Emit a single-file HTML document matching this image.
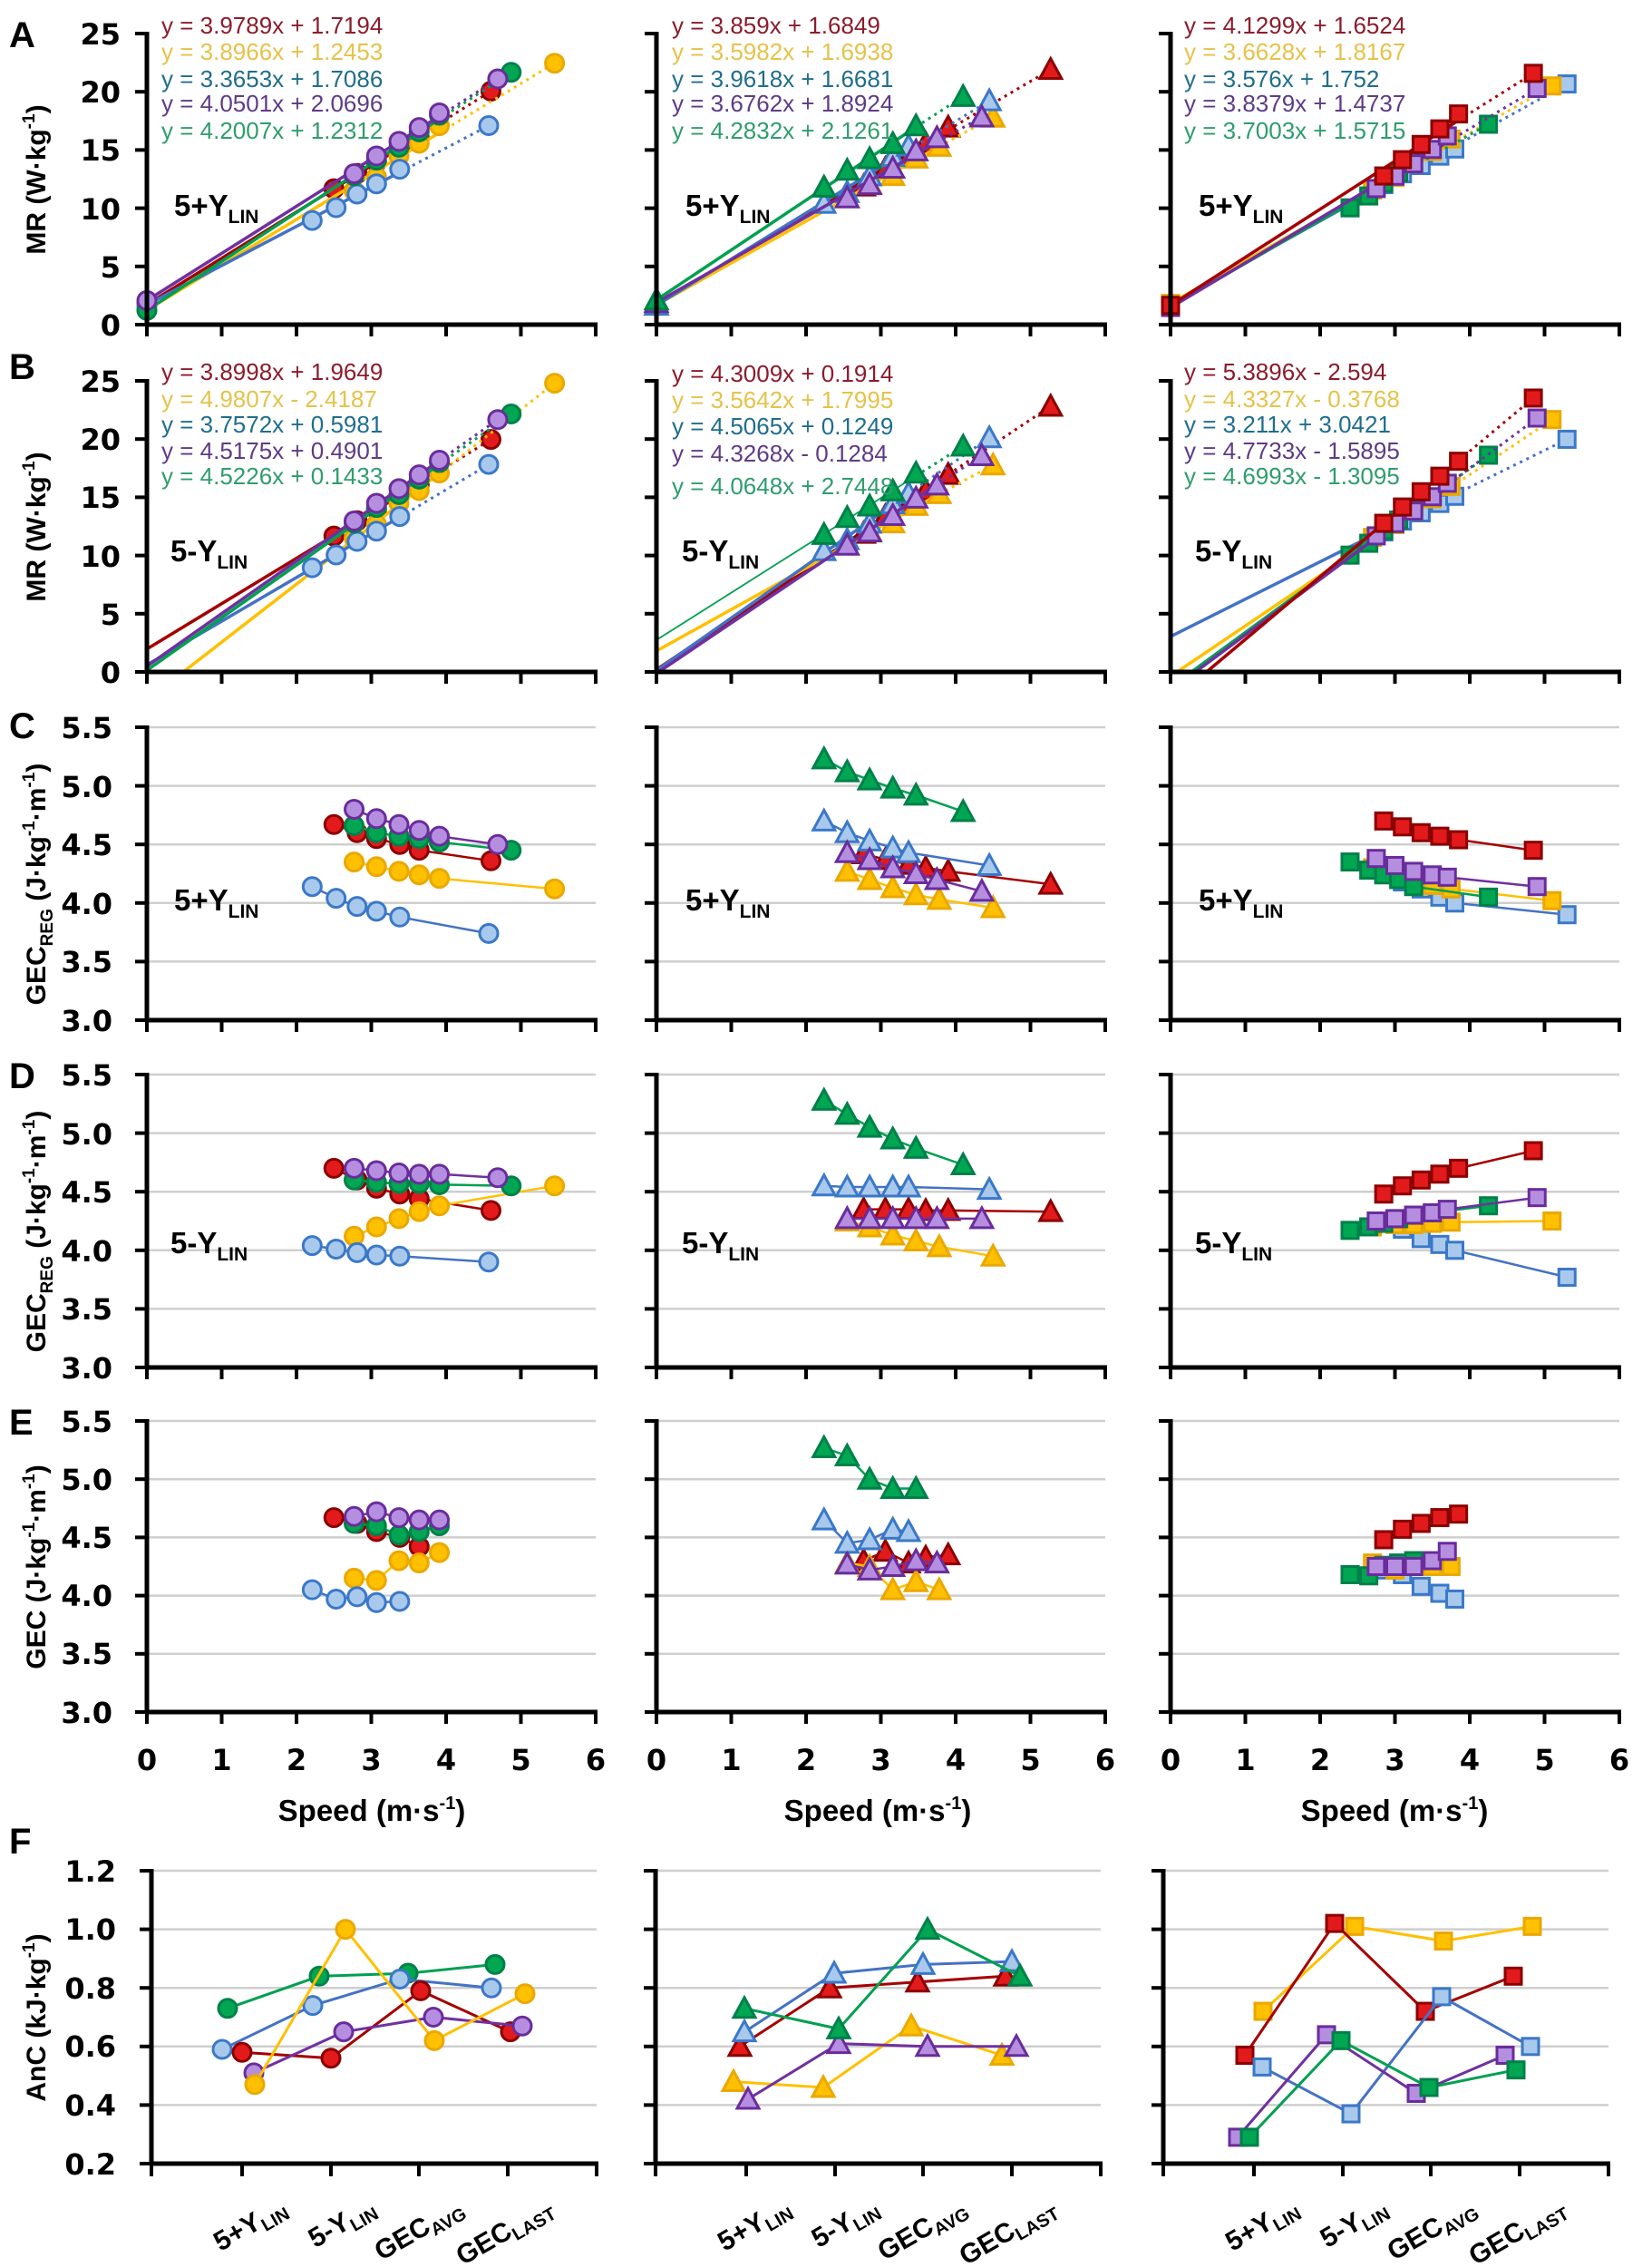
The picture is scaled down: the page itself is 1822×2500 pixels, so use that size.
<!DOCTYPE html>
<html><head><meta charset="utf-8"><style>
html,body{margin:0;padding:0;background:#fff}
svg{display:block}
.tk{font-family:"DejaVu Sans",sans-serif;font-weight:bold;font-size:32px;fill:#000}
.ttl{font-family:"Liberation Sans",sans-serif;font-weight:bold;font-size:30px;fill:#000}
.pl{font-family:"Liberation Sans",sans-serif;font-weight:bold;font-size:40px;fill:#000}
.eq{font-family:"Liberation Sans",sans-serif;font-size:26px}
.lb{font-family:"Liberation Sans",sans-serif;font-weight:bold;font-size:33px;fill:#000}
.cat{font-family:"Liberation Sans",sans-serif;font-weight:bold;font-size:30px;fill:#000}
</style></head><body>
<svg id="s" xmlns="http://www.w3.org/2000/svg" width="1822" height="2500" viewBox="0 0 1822 2500">
<rect width="1822" height="2500" fill="#fff"/>
<g id="grid"></g>
<g id="data"></g>
<g id="axes"></g>
<!-- panel letters -->
<text class="pl" x="10" y="52">A</text>
<text class="pl" x="10" y="418">B</text>
<text class="pl" x="10" y="814">C</text>
<text class="pl" x="10" y="1200">D</text>
<text class="pl" x="10" y="1582">E</text>
<text class="pl" x="10" y="2044">F</text>
<!-- y tick labels A/B -->
<g class="tk" text-anchor="end">
<text x="133" y="49">25</text><text x="133" y="113">20</text><text x="133" y="177">15</text><text x="133" y="242">10</text><text x="133" y="306">5</text><text x="133" y="370">0</text>
<text x="133" y="432">25</text><text x="133" y="496">20</text><text x="133" y="560">15</text><text x="133" y="625">10</text><text x="133" y="689">5</text><text x="133" y="753">0</text>
<text x="124" y="814">5.5</text><text x="124" y="879">5.0</text><text x="124" y="943">4.5</text><text x="124" y="1008">4.0</text><text x="124" y="1072">3.5</text><text x="124" y="1137">3.0</text>
<text x="124" y="1197">5.5</text><text x="124" y="1262">5.0</text><text x="124" y="1326">4.5</text><text x="124" y="1391">4.0</text><text x="124" y="1455">3.5</text><text x="124" y="1520">3.0</text>
<text x="124" y="1579">5.5</text><text x="124" y="1643">5.0</text><text x="124" y="1707">4.5</text><text x="124" y="1771">4.0</text><text x="124" y="1835">3.5</text><text x="124" y="1900">3.0</text>
<text x="128" y="2075">1.2</text><text x="128" y="2139">1.0</text><text x="128" y="2204">0.8</text><text x="128" y="2268">0.6</text><text x="128" y="2333">0.4</text><text x="128" y="2398">0.2</text>
</g>
<!-- x tick labels -->
<g class="tk" text-anchor="middle" font-size="34">
<text x="162" y="1952">0</text><text x="244.5" y="1952">1</text><text x="327" y="1952">2</text><text x="409.5" y="1952">3</text><text x="492" y="1952">4</text><text x="574.5" y="1952">5</text><text x="657" y="1952">6</text>
<text x="724" y="1952">0</text><text x="806.5" y="1952">1</text><text x="889" y="1952">2</text><text x="971.5" y="1952">3</text><text x="1054" y="1952">4</text><text x="1136.5" y="1952">5</text><text x="1219" y="1952">6</text>
<text x="1291" y="1952">0</text><text x="1373.5" y="1952">1</text><text x="1456" y="1952">2</text><text x="1538.5" y="1952">3</text><text x="1621" y="1952">4</text><text x="1703.5" y="1952">5</text><text x="1786" y="1952">6</text>
</g>
<g class="lb" text-anchor="middle">
<text x="410" y="2008">Speed (m·s<tspan font-size="20" dy="-13">-1</tspan><tspan dy="13">)</tspan></text>
<text x="968" y="2008">Speed (m·s<tspan font-size="20" dy="-13">-1</tspan><tspan dy="13">)</tspan></text>
<text x="1538" y="2008">Speed (m·s<tspan font-size="20" dy="-13">-1</tspan><tspan dy="13">)</tspan></text>
</g>
<!-- y axis titles -->
<g class="ttl" text-anchor="middle">
<text transform="translate(50,198) rotate(-90)">MR (W·kg<tspan font-size="19" dy="-12">-1</tspan><tspan dy="12">)</tspan></text>
<text transform="translate(50,581) rotate(-90)">MR (W·kg<tspan font-size="19" dy="-12">-1</tspan><tspan dy="12">)</tspan></text>
<text transform="translate(50,975) rotate(-90)">GEC<tspan font-size="19" dy="8">REG</tspan><tspan dy="-8"> (J·kg</tspan><tspan font-size="19" dy="-12">-1</tspan><tspan dy="12">·m</tspan><tspan font-size="19" dy="-12">-1</tspan><tspan dy="12">)</tspan></text>
<text transform="translate(50,1358) rotate(-90)">GEC<tspan font-size="19" dy="8">REG</tspan><tspan dy="-8"> (J·kg</tspan><tspan font-size="19" dy="-12">-1</tspan><tspan dy="12">·m</tspan><tspan font-size="19" dy="-12">-1</tspan><tspan dy="12">)</tspan></text>
<text transform="translate(50,1728) rotate(-90)">GEC (J·kg<tspan font-size="19" dy="-12">-1</tspan><tspan dy="12">·m</tspan><tspan font-size="19" dy="-12">-1</tspan><tspan dy="12">)</tspan></text>
<text transform="translate(50,2225) rotate(-90)">AnC (kJ·kg<tspan font-size="19" dy="-12">-1</tspan><tspan dy="12">)</tspan></text>
</g>
<!-- condition labels -->
<g class="lb">
<text x="192" y="238">5+Y<tspan font-size="21" dy="8">LIN</tspan></text>
<text x="756" y="238">5+Y<tspan font-size="21" dy="8">LIN</tspan></text>
<text x="1322" y="238">5+Y<tspan font-size="21" dy="8">LIN</tspan></text>
<text x="188" y="619">5-Y<tspan font-size="21" dy="8">LIN</tspan></text>
<text x="752" y="619">5-Y<tspan font-size="21" dy="8">LIN</tspan></text>
<text x="1318" y="619">5-Y<tspan font-size="21" dy="8">LIN</tspan></text>
<text x="192" y="1004">5+Y<tspan font-size="21" dy="8">LIN</tspan></text>
<text x="756" y="1004">5+Y<tspan font-size="21" dy="8">LIN</tspan></text>
<text x="1322" y="1004">5+Y<tspan font-size="21" dy="8">LIN</tspan></text>
<text x="188" y="1382">5-Y<tspan font-size="21" dy="8">LIN</tspan></text>
<text x="752" y="1382">5-Y<tspan font-size="21" dy="8">LIN</tspan></text>
<text x="1318" y="1382">5-Y<tspan font-size="21" dy="8">LIN</tspan></text>
</g>
<!-- equations -->
<g class="eq">
<text x="178" y="37" fill="#8b1c2c">y = 3.9789x + 1.7194</text>
<text x="178" y="66" fill="#e6c24a">y = 3.8966x + 1.2453</text>
<text x="178" y="96" fill="#1f6e8c">y = 3.3653x + 1.7086</text>
<text x="178" y="123" fill="#5f3b86">y = 4.0501x + 2.0696</text>
<text x="178" y="153" fill="#2f9d6d">y = 4.2007x + 1.2312</text>
<text x="178" y="419" fill="#8b1c2c">y = 3.8998x + 1.9649</text>
<text x="178" y="449" fill="#e6c24a">y = 4.9807x - 2.4187</text>
<text x="178" y="477" fill="#1f6e8c">y = 3.7572x + 0.5981</text>
<text x="178" y="506" fill="#5f3b86">y = 4.5175x + 0.4901</text>
<text x="178" y="534" fill="#2f9d6d">y = 4.5226x + 0.1433</text>
<text x="741" y="37" fill="#8b1c2c">y = 3.859x + 1.6849</text>
<text x="741" y="66" fill="#e6c24a">y = 3.5982x + 1.6938</text>
<text x="741" y="96" fill="#1f6e8c">y = 3.9618x + 1.6681</text>
<text x="741" y="123" fill="#5f3b86">y = 3.6762x + 1.8924</text>
<text x="741" y="153" fill="#2f9d6d">y = 4.2832x + 2.1261</text>
<text x="741" y="421" fill="#8b1c2c">y = 4.3009x + 0.1914</text>
<text x="741" y="450" fill="#e6c24a">y = 3.5642x + 1.7995</text>
<text x="741" y="479" fill="#1f6e8c">y = 4.5065x + 0.1249</text>
<text x="741" y="509" fill="#5f3b86">y = 4.3268x - 0.1284</text>
<text x="741" y="545" fill="#2f9d6d">y = 4.0648x + 2.7448</text>
<text x="1306" y="37" fill="#8b1c2c">y = 4.1299x + 1.6524</text>
<text x="1306" y="66" fill="#e6c24a">y = 3.6628x + 1.8167</text>
<text x="1306" y="96" fill="#1f6e8c">y = 3.576x + 1.752</text>
<text x="1306" y="123" fill="#5f3b86">y = 3.8379x + 1.4737</text>
<text x="1306" y="153" fill="#2f9d6d">y = 3.7003x + 1.5715</text>
<text x="1306" y="419" fill="#8b1c2c">y = 5.3896x - 2.594</text>
<text x="1306" y="449" fill="#e6c24a">y = 4.3327x - 0.3768</text>
<text x="1306" y="477" fill="#1f6e8c">y = 3.211x + 3.0421</text>
<text x="1306" y="506" fill="#5f3b86">y = 4.7733x - 1.5895</text>
<text x="1306" y="534" fill="#2f9d6d">y = 4.6993x - 1.3095</text>
</g>
<!-- F category labels -->
<g class="cat" text-anchor="end">
<text transform="translate(318,2440) rotate(-30)">5+Y<tspan font-size="20" dy="6">LIN</tspan></text>
<text transform="translate(416,2440) rotate(-30)">5-Y<tspan font-size="20" dy="6">LIN</tspan></text>
<text transform="translate(513,2440) rotate(-30)">GEC<tspan font-size="20" dy="6">AVG</tspan></text>
<text transform="translate(612,2440) rotate(-30)">GEC<tspan font-size="20" dy="6">LAST</tspan></text>
<text transform="translate(874,2440) rotate(-30)">5+Y<tspan font-size="20" dy="6">LIN</tspan></text>
<text transform="translate(971,2440) rotate(-30)">5-Y<tspan font-size="20" dy="6">LIN</tspan></text>
<text transform="translate(1068,2440) rotate(-30)">GEC<tspan font-size="20" dy="6">AVG</tspan></text>
<text transform="translate(1167,2440) rotate(-30)">GEC<tspan font-size="20" dy="6">LAST</tspan></text>
<text transform="translate(1434,2440) rotate(-30)">5+Y<tspan font-size="20" dy="6">LIN</tspan></text>
<text transform="translate(1532,2440) rotate(-30)">5-Y<tspan font-size="20" dy="6">LIN</tspan></text>
<text transform="translate(1630,2440) rotate(-30)">GEC<tspan font-size="20" dy="6">AVG</tspan></text>
<text transform="translate(1729,2440) rotate(-30)">GEC<tspan font-size="20" dy="6">LAST</tspan></text>
</g>
</svg>
<script>
(function(){
var NS="http://www.w3.org/2000/svg";
function el(p,t,a){var e=document.createElementNS(NS,t);for(var k in a)e.setAttribute(k,a[k]);p.appendChild(e);return e;}
var G=document.getElementById('grid'),D=document.getElementById('data'),AX=document.getElementById('axes');
var X0=[162,724,1291],SC=82.5;
var ROWS=[[37,358],[420,741],[802,1125],[1185,1508],[1567,1888]];
var ST={red:{f:"#e31a1c",s:"#8b0000",l:"#a50000"},yel:{f:"#ffc000",s:"#eaa800",l:"#ffc000"},blu:{f:"#a9c9ec",s:"#3a78c9",l:"#4472c4"},pur:{f:"#b58ee0",s:"#6a2c9c",l:"#7030a0"},grn:{f:"#00a651",s:"#00804a",l:"#00a050"}};
var SH=['c','t','q'];
function mk(sh,x,y,c){var st=ST[c];
 if(sh=='c')el(D,'circle',{cx:x,cy:y,r:10,fill:st.f,stroke:st.s,'stroke-width':3});
 else if(sh=='t')el(D,'polygon',{points:(x-12)+','+(y+10)+' '+(x+12)+','+(y+10)+' '+x+','+(y-12),fill:st.f,stroke:st.s,'stroke-width':3});
 else el(D,'rect',{x:x-9,y:y-9,width:18,height:18,fill:st.f,stroke:st.s,'stroke-width':3});}
function line(pts,c,w,dash){var d=pts.map(function(p){return p[0].toFixed(1)+','+p[1].toFixed(1)}).join(' ');var a={points:d,fill:'none',stroke:ST[c].l,'stroke-width':w,'stroke-linejoin':'round'};if(dash)a['stroke-dasharray']=dash;el(D,'polyline',a);}
var DATA=[
 {red:{s:[2.50,2.81,3.07,3.38,3.64,4.60],C:[4.67,4.60,4.55,4.50,4.45,4.36],D:[4.70,4.60,4.53,4.48,4.44,4.34],E:[4.67,4.62,4.55,4.50,4.42],A:[3.9789,1.7194],B:[3.8998,1.9649]},
  yel:{s:[2.77,3.07,3.37,3.64,3.91,5.45],C:[4.35,4.31,4.27,4.24,4.21,4.12],D:[4.12,4.20,4.27,4.33,4.38,4.55],E:[4.15,4.13,4.30,4.28,4.37],A:[3.8966,1.2453],B:[4.9807,-2.4187]},
  blu:{s:[2.21,2.53,2.81,3.07,3.38,4.57],C:[4.14,4.04,3.97,3.93,3.88,3.74],D:[4.04,4.01,3.98,3.96,3.95,3.90],E:[4.05,3.97,3.99,3.94,3.95],A:[3.3653,1.7086],B:[3.7572,0.5981]},
  grn:{s:[2.77,3.07,3.37,3.64,3.91,4.87],C:[4.66,4.60,4.57,4.55,4.52,4.45],D:[4.60,4.58,4.57,4.57,4.56,4.55],E:[4.62,4.60,4.52,4.55,4.60],A:[4.2007,1.2312],B:[4.5226,0.1433]},
  pur:{s:[2.77,3.07,3.37,3.64,3.91,4.69],C:[4.80,4.72,4.67,4.62,4.57,4.50],D:[4.70,4.68,4.66,4.65,4.65,4.62],E:[4.68,4.72,4.67,4.65,4.65],A:[4.0501,2.0696],B:[4.5175,0.4901]}},
 {red:{s:[2.77,3.06,3.37,3.60,3.90,5.27],C:[4.42,4.37,4.33,4.30,4.27,4.16],D:[4.35,4.35,4.35,4.34,4.34,4.33],E:[4.30,4.38,4.28,4.33,4.35],A:[3.859,1.6849],B:[4.3009,0.1914]},
  yel:{s:[2.55,2.85,3.16,3.47,3.78,4.50],C:[4.27,4.20,4.13,4.07,4.03,3.96],D:[4.25,4.20,4.13,4.08,4.03,3.95],E:[4.28,4.25,4.05,4.12,4.05],A:[3.5982,1.6938],B:[3.5642,1.7995]},
  blu:{s:[2.24,2.55,2.85,3.16,3.37,4.45],C:[4.70,4.60,4.53,4.47,4.43,4.32],D:[4.55,4.54,4.54,4.54,4.54,4.52],E:[4.65,4.45,4.48,4.57,4.55],A:[3.9618,1.6681],B:[4.5065,0.1249]},
  pur:{s:[2.55,2.85,3.16,3.47,3.75,4.35],C:[4.43,4.37,4.30,4.25,4.20,4.10],D:[4.27,4.27,4.27,4.27,4.27,4.27],E:[4.27,4.22,4.25,4.30,4.28],A:[3.6762,1.8924],B:[4.3268,-0.1284]},
  grn:{s:[2.24,2.55,2.85,3.16,3.47,4.10],C:[5.23,5.12,5.05,4.98,4.92,4.78],D:[5.28,5.16,5.05,4.95,4.87,4.73],E:[5.27,5.20,5.00,4.92,4.92],A:[4.2832,2.1261],B:[4.0648,2.7448],thin:1}},
 {blu:{s:[2.85,3.10,3.35,3.60,3.80,5.30],C:[4.25,4.18,4.12,4.05,4.00,3.90],D:[4.25,4.18,4.10,4.05,4.00,3.77],E:[4.22,4.18,4.08,4.02,3.97],A:[3.576,1.752],B:[3.211,3.0421]},
  yel:{s:[2.70,3.00,3.25,3.50,3.75,5.10],C:[4.30,4.25,4.18,4.15,4.12,4.02],D:[4.20,4.22,4.22,4.23,4.24,4.25],E:[4.28,4.22,4.25,4.25,4.25],A:[3.6628,1.8167],B:[4.3327,-0.3768]},
  grn:{s:[2.40,2.65,2.85,3.05,3.25,4.25],C:[4.35,4.28,4.24,4.20,4.14,4.05],D:[4.17,4.20,4.23,4.27,4.30,4.38],E:[4.18,4.17,4.26,4.28,4.30],A:[3.7003,1.5715],B:[4.6993,-1.3095]},
  pur:{s:[2.75,3.00,3.25,3.50,3.70,4.90],C:[4.38,4.32,4.27,4.24,4.22,4.14],D:[4.25,4.27,4.30,4.32,4.35,4.45],E:[4.25,4.25,4.25,4.30,4.38],A:[3.8379,1.4737],B:[4.7733,-1.5895]},
  red:{s:[2.85,3.10,3.35,3.60,3.85,4.85],C:[4.70,4.65,4.60,4.57,4.54,4.45],D:[4.48,4.55,4.60,4.65,4.70,4.85],E:[4.48,4.57,4.62,4.67,4.70],A:[4.1299,1.6524],B:[5.3896,-2.594]}}
];
// grid + axes for speed panels
for(var c=0;c<3;c++){var x0=X0[c],x6=x0+6*SC;
 for(var r=0;r<5;r++){var t=ROWS[r][0],b=ROWS[r][1],H=b-t;
  var n=5;
  for(var i=0;i<=n;i++){var y=t+H*i/n;
   if(r>=2&&i<n)el(G,'line',{x1:x0,y1:y,x2:x6,y2:y,stroke:'#cfcfcf','stroke-width':2.5});
   el(AX,'line',{x1:x0-13,y1:y,x2:x0,y2:y,stroke:'#000','stroke-width':4});}
  el(AX,'line',{x1:x0,y1:t-2,x2:x0,y2:b+2,stroke:'#000','stroke-width':5});
  el(AX,'line',{x1:x0-2,y1:b,x2:x6+2,y2:b,stroke:'#000','stroke-width':5});
  for(var i=0;i<=6;i++)el(AX,'line',{x1:x0+i*SC,y1:b,x2:x0+i*SC,y2:b+13,stroke:'#000','stroke-width':4});
 }
 var sh=SH[c],ds=DATA[c];
 for(var k in ds){var S=ds[k];
  // A & B
  ['A','B'].forEach(function(R,ri){var t=ROWS[ri][0],b=ROWS[ri][1];
   function Y(v){return b-(v/25)*(b-t);} function X(s){return x0+s*SC;}
   var m=S[R][0],bb=S[R][1],GV=(R=='A'?S.C:S.D);
   var sx=Math.max(0,-bb/m),s4=S.s[4];
   line([[X(s4),Y(m*s4+bb)],[X(S.s[5]),Y(GV[5]*S.s[5])]],k,3,'3,5');
   line([[X(sx),Y(m*sx+bb)],[X(s4),Y(m*s4+bb)]],k,(S.thin&&R=='B')?1.8:3.5);
   for(var i=0;i<5;i++)mk(sh,X(S.s[i]),Y(S.E[i]*S.s[i]),k);
   mk(sh,X(S.s[5]),Y(GV[5]*S.s[5]),k);
   if(R=='A')mk(sh,X(0),Y(bb),k);
  });
  ['C','D','E'].forEach(function(R,ri){var t=ROWS[ri+2][0],b=ROWS[ri+2][1];
   function Y(v){return t+(5.5-v)/2.5*(b-t);} function X(s){return x0+s*SC;}
   var pts=[];for(var i=0;i<S[R].length;i++)pts.push([X(S.s[i]),Y(S[R][i])]);
   line(pts,k,2.5);pts.forEach(function(p){mk(sh,p[0],p[1],k);});
  });
 }
}
// F panels
var FA=[167,723,1283],FT=2063,FB=2386;
var FD=[
 {grn:[[251,.73],[352,.84],[450,.85],[546,.88]],blu:[[245,.59],[345,.74],[441,.83],[542,.80]],red:[[267,.58],[365,.56],[464,.79],[563,.65]],pur:[[280,.51],[379,.65],[478,.70],[576,.67]],yel:[[281,.47],[381,1.00],[479,.62],[579,.78]]},
 {yel:[[809,.48],[908,.46],[1005,.67],[1105,.57]],pur:[[825,.42],[925,.61],[1023,.60],[1121,.60]],red:[[816,.60],[915,.80],[1012,.82],[1109,.84]],blu:[[821,.65],[920,.85],[1018,.88],[1116,.89]],grn:[[821,.73],[925,.66],[1023,1.00],[1125,.84]]},
 {yel:[[1393,.72],[1494,1.01],[1592,.96],[1690,1.01]],red:[[1373,.57],[1472,1.02],[1572,.72],[1669,.84]],blu:[[1392,.53],[1490,.37],[1590,.77],[1688,.60]],pur:[[1365,.29],[1463,.64],[1562,.44],[1660,.57]],grn:[[1378,.29],[1479,.62],[1576,.46],[1672,.52]]}
];
for(var c=0;c<3;c++){var a=FA[c],e=a+491,H=FB-FT;
 function FY(v){return FB-(v-0.2)/1.0*H;}
 for(var i=0;i<=5;i++){var y=FT+H*i/5;
  if(i<5)el(G,'line',{x1:a,y1:y,x2:e,y2:y,stroke:'#cfcfcf','stroke-width':2.5});
  el(AX,'line',{x1:a-13,y1:y,x2:a,y2:y,stroke:'#000','stroke-width':4});}
 el(AX,'line',{x1:a,y1:FT-2,x2:a,y2:FB+2,stroke:'#000','stroke-width':5});
 el(AX,'line',{x1:a-2,y1:FB,x2:e+2,y2:FB,stroke:'#000','stroke-width':5});
 [0,100,198,295,393,491].forEach(function(o){el(AX,'line',{x1:a+o,y1:FB,x2:a+o,y2:FB+14,stroke:'#000','stroke-width':4});});
 var ds=FD[c];for(var k in ds){var pts=ds[k].map(function(p){return [p[0],FY(p[1])];});line(pts,k,3);pts.forEach(function(p){mk(SH[c],p[0],p[1],k);});}
}
})();
</script>
</body></html>
